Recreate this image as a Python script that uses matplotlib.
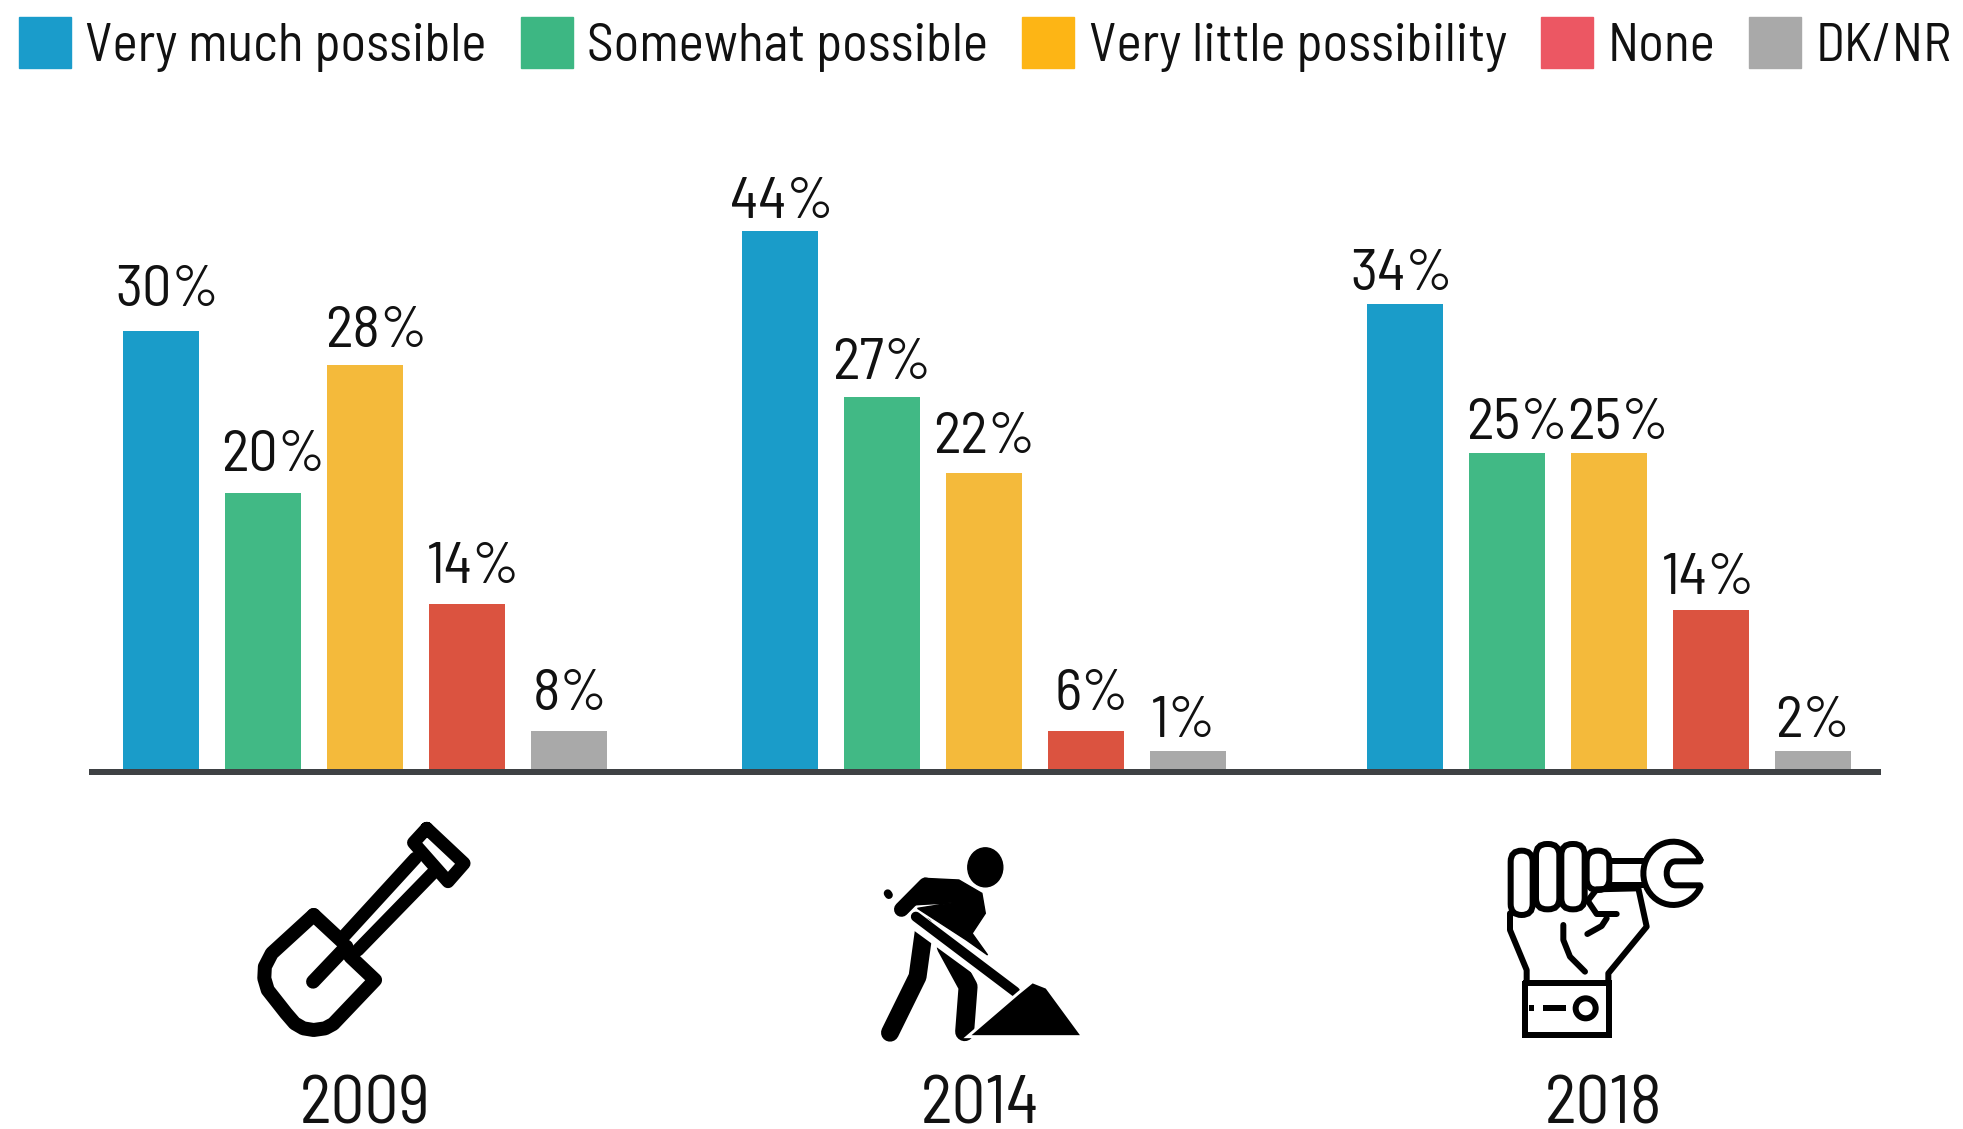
import matplotlib
matplotlib.use("Agg")
import matplotlib.pyplot as plt
import numpy as np
from matplotlib.patches import Patch, Polygon, Ellipse, Circle, FancyBboxPatch

plt.rcParams['font.family'] = ['Barlow Semi Condensed', 'Liberation Sans', 'DejaVu Sans']

W, H = 1963, 1129

# Data
years = ["2009", "2014", "2018"]
categories = ["Very much possible", "Somewhat possible", "Very little possibility", "None", "DK/NR"]

# printed percentages
very_much = [30, 44, 34]
somewhat = [20, 27, 25]
very_little = [28, 22, 25]
none_at_all = [14, 6, 14]
dk_nr = [8, 1, 2]

# the original bars are not to scale with their labels, so heights are read separately
very_much_h = [30, 36.8, 31.8]
somewhat_h = [19, 25.5, 21.7]
very_little_h = [27.7, 20.3, 21.7]
none_h = [11.4, 2.8, 11]
dk_nr_h = [2.8, 1.4, 1.4]

printed = [very_much, somewhat, very_little, none_at_all, dk_nr]
heights = [very_much_h, somewhat_h, very_little_h, none_h, dk_nr_h]

# Colours: legend swatches are brighter than the bars
bar_colors = ["#1A9CC9", "#41B985", "#F4BA3B", "#DB5340", "#A9A9A9"]
legend_colors = ["#1A9CCB", "#3DB783", "#FDB515", "#EC5763", "#A9A9A9"]
INK = "#111111"

# Layout
group_x = [0, 0.995, 2.0]
year_tick_x = [0, 0.989, 1.992]
bar_w = 0.122
bar_step = 0.164
# label tweaks in pixels, series by series
label_dx = [[6, 2, -3], [10, 0, 10], [11, 0, 9], [7, 6, -2], [1, -4, 0]]
label_gap = [[25, 13, 14], [22, 18, 14], [18, 20, 14], [21, 21, 16], [21, 14, 14]]


def px(n):
    return n * 0.72


fig = plt.figure(figsize=(W / 100, H / 100), dpi=100)
ax = fig.add_axes([92 / W, (H - 772) / H, 1786 / W, 772 / H])

for i, name in enumerate(categories):
    xs = np.array(group_x) + (i - 2) * bar_step
    ax.bar(xs, heights[i], width=bar_w, color=bar_colors[i], zorder=2)
    for j, x in enumerate(xs):
        ax.annotate(f"{printed[i][j]}%", xy=(x, heights[i][j]),
                    xytext=(px(label_dx[i][j]), px(label_gap[i][j])), textcoords="offset points",
                    ha="center", va="baseline", fontsize=42, color=INK)

ax.set_xlim(-0.4389, 2.4325)
ax.set_ylim(0, 52.5)
ax.patch.set_visible(False)
for side in ["top", "left", "right"]:
    ax.spines[side].set_visible(False)
ax.spines["bottom"].set_linewidth(px(6))
ax.spines["bottom"].set_color("#3E4144")
ax.spines["bottom"].set_zorder(3)
ax.set_yticks([])
ax.set_xticks(year_tick_x, years, fontsize=48.5, color=INK)
ax.tick_params(axis="x", length=0, pad=px(303))

# Legend
handles = [Patch(color=c, label=n) for c, n in zip(legend_colors, categories)]
fig.legend(handles=handles, loc="upper left", bbox_to_anchor=(19 / W, 1 - 17 / H), ncols=5,
           frameon=False, fontsize=38.5, borderpad=0, borderaxespad=0, handlelength=0.97,
           handleheight=1.08, handletextpad=0.27, columnspacing=0.64, labelcolor=INK)

# Icons, drawn in pixel space on top
ic = fig.add_axes([0, 0, 1, 1])
ic.set_xlim(0, W)
ic.set_ylim(H, 0)
ic.axis("off")


def stroke(pts, lw, color="black", cap="round", join="round", z=5):
    a = np.array(pts, dtype=float)
    ic.plot(a[:, 0], a[:, 1], color=color, lw=px(lw), solid_capstyle=cap, solid_joinstyle=join, zorder=z)


# icon crops: (x0, y0, sx, sy)
def conv(pts, crop):
    x0, y0, sx, sy = crop
    return [(x0 + a / sx, y0 + b / sy) for a, b in pts]


crop2 = (200, 780, 1.742, 3.0)
crop3 = (1400, 800, 3.0, 3.0)

# shovel
blade = [(198, 405), (125, 520), (113, 560), (112, 595), (118, 630), (150, 700), (165, 730), (180, 745), (198, 750),
         (218, 745), (232, 732), (305, 600), (262, 530)]
stroke(conv(blade, crop2), 14)
stroke(conv([(198, 405), (248, 485)], crop2), 14)
stroke(conv([(197, 605), (255, 500)], crop2), 14)
stroke(conv([(250, 470), (375, 235)], crop2), 13)
stroke(conv([(275, 510), (405, 280)], crop2), 13)
grip = [(395, 145), (460, 250), (432, 305), (372, 188), (395, 145)]
stroke(conv(grip, crop2), 13)

# worker
ic.add_patch(Ellipse(conv([(1368, 262)], crop2)[0], 35, 39, color="black", zorder=5))
torso = [(1262, 295), (1322, 300), (1362, 340), (1368, 400), (1345, 460), (1372, 525), (1335, 480),
         (1250, 385), (1312, 368), (1240, 375)]
ic.add_patch(Polygon(conv(torso, crop2), closed=True, color="black", zorder=5))
stroke(conv([(1222, 388), (1264, 315), (1320, 345)], crop2), 15)
stroke(conv([(1198, 340), (1200, 345)], crop2), 8)
stroke(conv([(1262, 440), (1250, 590), (1202, 758)], crop2), 18)
stroke(conv([(1300, 500), (1338, 620), (1332, 755)], crop2), 19)
stroke(conv([(1245, 420), (1420, 640)], crop2), 18, color="white", z=6)
stroke(conv([(1247, 410), (1420, 635)], crop2), 10, z=7)
pile = [(1337, 770), (1425, 640), (1450, 605), (1475, 622), (1538, 770)]
ic.add_patch(Polygon(conv(pile, crop2), closed=True, facecolor="black", edgecolor="white", lw=px(3), zorder=8))

# fist with wrench
for x1, x2, y1, y2 in [(332, 398, 152, 345), (408, 478, 132, 328), (484, 554, 132, 328), (560, 628, 152, 270)]:
    (xa, ya), (xb, yb) = conv([(x1, y1), (x2, y2)], crop3)
    ic.add_patch(FancyBboxPatch((xa + 10, ya + 10), xb - xa - 20, yb - ya - 20, boxstyle="round,pad=10,rounding_size=11",
                                fc="white", ec="black", lw=px(6), zorder=5))
stroke(conv([(630, 182), (735, 182)], crop3), 6)
stroke(conv([(630, 255), (735, 255)], crop3), 6)
# wrench head as an open arc with a jaw cut into it
theta = np.radians(np.linspace(-25, -335, 40))
head = [(820 + 90 * np.cos(t), 220 + 95 * np.sin(t)) for t in theta]
inner = np.radians(np.linspace(90, 270, 12))
jaw = [(825 + 25 * np.cos(t), 220 + 36 * np.sin(t)) for t in inner]
head = head + [(900, 256)] + jaw + [(900, 184)] + head[:1]
stroke(conv(head, crop3), 6)
thumb = [(565, 300), (590, 268), (715, 265), (740, 380), (625, 520), (625, 548)]
stroke(conv(thumb, crop3), 6, z=6)
stroke(conv([(565, 305), (590, 342), (650, 342)], crop3), 6)
stroke(conv([(620, 355), (605, 378), (562, 402)], crop3), 6)
stroke(conv([(490, 375), (490, 420), (510, 470), (555, 515)], crop3), 6)
stroke(conv([(330, 340), (330, 390), (380, 510), (380, 548)], crop3), 6)
cuff = [(376, 548), (628, 548), (628, 705), (376, 705), (376, 548)]
stroke(conv(cuff, crop3), 6, join="miter")
stroke(conv([(388, 625), (403, 625)], crop3), 6, cap="butt")
stroke(conv([(428, 625), (498, 625)], crop3), 6, cap="butt")
ic.add_patch(Circle(conv([(557, 625)], crop3)[0], 10, fc="white", ec="black", lw=px(6), zorder=5))

fig.savefig("out.png", dpi=100, facecolor="white")
